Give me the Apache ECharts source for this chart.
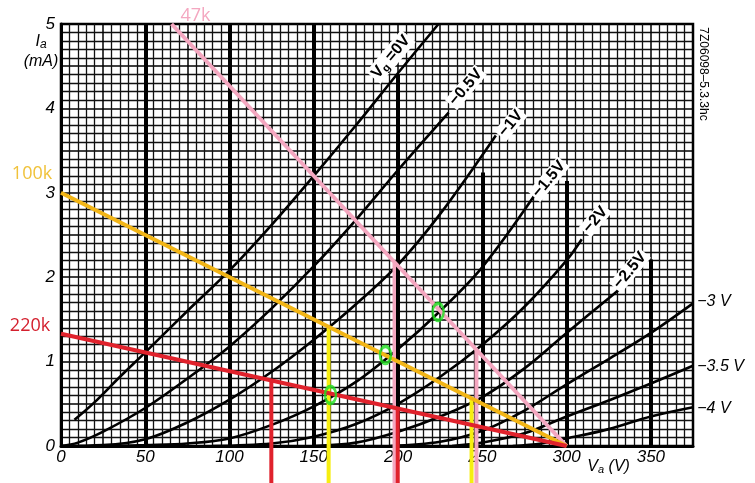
<!DOCTYPE html>
<html><head><meta charset="utf-8">
<script src="https://cdn.jsdelivr.net/npm/echarts@6/dist/echarts.min.js"></script>
<style>html,body{margin:0;padding:0;background:#fff}#c{width:755px;height:483px}</style>
</head><body><div id="c"></div>
<script>
// ---- axis ticks ----
const xTickLabels = [0, 50, 100, 150, 200, 250, 300, 350];
const yTickLabels = [0, 1, 2, 3, 4, 5];
// heavy vertical grid lines: x value and top (mA)
const heavyX = [50, 100, 150, 200, 250, 300, 350];
const heavyTop = [5, 5, 5, 4.4, 3.24, 3.14, 2.21];

// ---- characteristic curves Ia (mA) vs Va (V) ----
const vg0 = [[8,0.31],[20,0.52],[35,0.82],[50,1.11],[75,1.6],[100,2.08],[125,2.62],[150,3.2],[175,3.8],[200,4.42],[224,5.0]];
const vg05 = [[0,0],[10,0.04],[25,0.17],[50,0.45],[75,0.8],[100,1.18],[125,1.63],[150,2.13],[175,2.68],[200,3.27],[230,3.95]];
const vg1 = [[0,0],[25,0.01],[50,0.08],[75,0.28],[100,0.55],[125,0.88],[150,1.26],[175,1.68],[200,2.15],[225,2.75],[258,3.68]];
const vg15 = [[30,0],[50,0.01],[75,0.03],[100,0.09],[125,0.25],[150,0.47],[175,0.76],[200,1.15],[225,1.6],[250,2.12],[281,2.97]];
const vg2 = [[90,0],[125,0.03],[150,0.11],[175,0.26],[200,0.5],[225,0.82],[250,1.2],[275,1.65],[300,2.2],[309,2.45]];
const vg25 = [[150,0],[175,0.04],[200,0.17],[225,0.35],[250,0.58],[275,0.92],[300,1.34],[325,1.75],[331,1.85]];
const vg3 = [[195,0],[225,0.05],[250,0.18],[275,0.42],[300,0.73],[325,1.03],[350,1.34],[375,1.69]];
const vg35 = [[232,0],[250,0.04],[275,0.15],[300,0.35],[325,0.54],[350,0.74],[375,0.95]];
const vg4 = [[268,0],[285,0.03],[300,0.09],[325,0.2],[350,0.35],[375,0.46]];

// curve labels: text, anchor (V, mA)
const curveLabelText = ['V{g|g} =0V', '\u22120.5V', '\u22121V', '\u22121.5V', '\u22122V', '\u22122.5V'];
const curveLabelAt = [[195.7,4.61],[240.2,4.25],[266.9,3.82],[289.5,3.16],[317.1,2.68],[337.6,2.08]];
const sideLabelText = ['\u22123 V', '\u22123.5 V', '\u22124 V'];
const sideLabelAt = [[377.5,1.71],[377.5,0.94],[377.5,0.44]];

// ---- load lines ----
const load47k = [[65.6,5],[300,0]];
const load100k = [[0,3],[300,0]];
const load220k = [[0,1.33],[300,0]];
const drop47k = [[[197.9,2.17],[197.9,-0.45]], [[246.5,1.14],[246.5,-0.45]]];
const drop100k = [[[158.8,1.41],[158.8,-0.45]], [[243.6,0.56],[243.6,-0.45]]];
const drop220k = [[[124.8,0.78],[124.8,-0.45]], [[199.8,0.44],[199.8,-0.45]]];
const opPoints = [[223.8,1.59],[192.5,1.08],[159.9,0.605]];
const loadLabels = ['47k', '100k', '220k'];

const PINK = '#f4a7c0', GOLD = '#f2b516', GOLDTXT = '#f0c23a', YEL = '#f6ee10', RED = '#e0222c', REDTXT = '#d4202e', GREEN = '#1fe01f';

const chart = echarts.init(document.getElementById('c'));
const curveList = [vg0, vg05, vg1, vg15, vg2, vg25, vg3, vg35, vg4];

const series = [];
series.push({
  type: 'line', data: [], z: 1, silent: true,
  markLine: {
    silent: true, symbol: 'none', animation: false,
    lineStyle: { color: '#000', width: 4, type: 'solid' },
    label: { show: false },
    data: heavyX.map((x, i) => [{ coord: [x, 0] }, { coord: [x, heavyTop[i]] }])
  }
});
curveList.forEach(d => series.push({
  type: 'line', data: d, smooth: 0.35, showSymbol: false, z: 3, silent: true,
  lineStyle: { color: '#000', width: 2.6 }
}));
function addLine(d, color, z) {
  series.push({ type: 'line', data: d, showSymbol: false, z: z, clip: false, silent: true,
    lineStyle: { color: color, width: 4 } });
}
drop47k.forEach(d => addLine(d, PINK, 4));
drop100k.forEach(d => addLine(d, YEL, 4));
drop220k.forEach(d => addLine(d, RED, 5));
addLine(load47k, PINK, 6);
addLine(load100k, GOLD, 6);
addLine(load220k, RED, 6);
series.push({
  type: 'scatter', data: opPoints, z: 8, symbol: 'circle', symbolSize: [11, 17],
  itemStyle: { color: 'rgba(0,0,0,0)', borderColor: GREEN, borderWidth: 3 }
});

const numFont = { fontFamily: 'Liberation Sans', fontStyle: 'italic', fontSize: 17, color: '#000' };

chart.setOption({
  animation: false,
  backgroundColor: '#fff',
  grid: { left: 61, right: 62, top: 24, bottom: 37, show: true, borderColor: '#000', borderWidth: 2.5 },
  xAxis: {
    type: 'value', min: 0, max: 375, interval: 25,
    axisLine: { lineStyle: { color: '#000', width: 3 } },
    axisTick: { show: false },
    axisLabel: Object.assign({ customValues: xTickLabels, margin: 3 }, numFont),
    splitLine: { lineStyle: { color: '#000', width: 1.5 } },
    minorTick: { show: false, splitNumber: 5 },
    minorSplitLine: { show: true, lineStyle: { color: '#111', width: 1.3 } }
  },
  yAxis: {
    type: 'value', min: 0, max: 5, interval: 0.5,
    axisLine: { show: true, lineStyle: { color: '#000', width: 3 } },
    axisTick: { show: false },
    axisLabel: Object.assign({ customValues: yTickLabels, margin: 6 }, numFont),
    splitLine: { lineStyle: { color: '#000', width: 1.5 } },
    minorTick: { show: false, splitNumber: 5 },
    minorSplitLine: { show: true, lineStyle: { color: '#111', width: 1.3 } }
  },
  series: series
});

function P(v) { return chart.convertToPixel({ gridIndex: 0 }, v); }
const g = [];
curveLabelText.forEach((t, i) => {
  const p = P(curveLabelAt[i]);
  g.push({ type: 'text', x: p[0], y: p[1], rotation: 50 * Math.PI / 180, z: 20,
    style: { text: t, fontFamily: 'Liberation Sans', fontWeight: 'bold', fontSize: 16, fill: '#000',
      align: 'center', verticalAlign: 'middle', backgroundColor: '#fff', padding: [0, 2],
      rich: { g: { fontSize: 11, fontWeight: 'bold', padding: [8, 0, 0, 0], fontFamily: 'Liberation Sans' } } } });
});
sideLabelText.forEach((t, i) => {
  const p = P(sideLabelAt[i]);
  g.push({ type: 'text', x: p[0], y: p[1], z: 20,
    style: { text: t, fontFamily: 'Liberation Sans', fontStyle: 'italic', fontSize: 16, fill: '#000',
      align: 'left', verticalAlign: 'middle' } });
});
// axis titles
const pIa = P([0, 4.7]);
g.push({ type: 'text', x: pIa[0] - 20, y: pIa[1] + 2, z: 20,
  style: { text: 'I{s|a}\n(mA)', fontFamily: 'Liberation Sans', fontStyle: 'italic', fontSize: 16, fill: '#000',
    align: 'center', verticalAlign: 'middle', lineHeight: 20,
    rich: { s: { fontSize: 12, fontStyle: 'italic', padding: [6, 0, 0, 0] } } } });
const pVa = P([300, 0]);
g.push({ type: 'text', x: pVa[0] + 42, y: pVa[1] + 21, z: 20,
  style: { text: 'V{s|a} (V)', fontFamily: 'Liberation Sans', fontStyle: 'italic', fontSize: 16, fill: '#000',
    align: 'center', verticalAlign: 'middle',
    rich: { s: { fontSize: 11, fontStyle: 'italic', padding: [6, 0, 0, 0] } } } });
const pCode = P([375, 5]);
g.push({ type: 'text', x: pCode[0] + 10, y: pCode[1] + 50, rotation: -Math.PI / 2, z: 20,
  style: { text: '7Z06098\u20135.3.3hc', fontFamily: 'Liberation Sans', fontSize: 12, fill: '#000',
    align: 'center', verticalAlign: 'middle' } });
// load line labels
const p47 = P(load47k[0]);
g.push({ type: 'text', x: p47[0] + 24, y: p47[1] - 8, z: 20,
  style: { text: loadLabels[0], fontFamily: 'Open Sans', fontSize: 18, fill: PINK, align: 'center', verticalAlign: 'middle' } });
const p100 = P(load100k[0]);
g.push({ type: 'text', x: p100[0] - 29, y: p100[1] - 19, z: 20,
  style: { text: loadLabels[1], fontFamily: 'Open Sans', fontSize: 18, fill: GOLDTXT, align: 'center', verticalAlign: 'middle' } });
const p220 = P(load220k[0]);
g.push({ type: 'text', x: p220[0] - 31, y: p220[1] - 8, z: 20,
  style: { text: loadLabels[2], fontFamily: 'Open Sans', fontSize: 18, fill: REDTXT, align: 'center', verticalAlign: 'middle' } });
chart.setOption({ graphic: g });
</script>
</body></html>
